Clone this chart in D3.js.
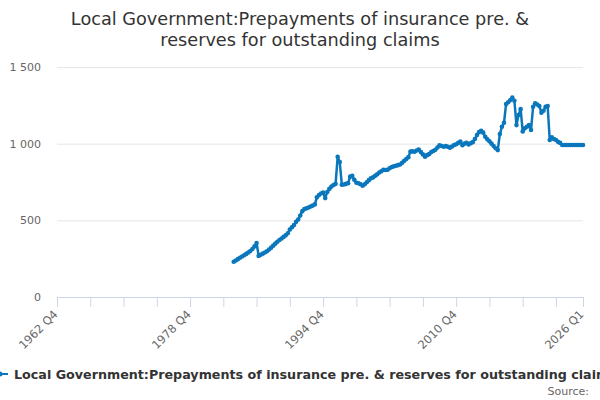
<!DOCTYPE html>
<html lang="en">
<head>
    <meta charset="UTF-8">
    <title>Local Government: Prepayments of insurance</title>
    <script src="https://d3js.org/d3.v7.min.js"></script>
    <style>
        body { margin: 0; background: #fff; font-family: "DejaVu Sans", sans-serif; }
        svg { display: block; }
    </style>
</head>
<body>
    <div id="chart"></div>

    <script>
        // Axis covers every quarter from 1962 Q4 to 2026 Q1
        const firstYear = 1962, firstQuarter = 4;
        const lastYear = 2026, lastQuarter = 1;

        // Tick labels shown on the x axis
        const tickLabels = ["1962 Q4", "1978 Q4", "1994 Q4", "2010 Q4", "2026 Q1"];
        const yTicks = [0, 500, 1000, 1500];

        // Series starts in 1984 Q1, quarterly values (£m)
        const seriesStart = "1984 Q1";
        const seriesName = "Local Government:Prepayments of insurance pre. & reserves for outstanding claims";
        const values = [
            230, 238, 247, 256, 264, 272, 281, 290, 300, 313, 330, 352,      // 1984-86
            268, 276, 283, 290, 298, 310, 322, 335, 348, 360, 372, 382,      // 1987-89
            392, 402, 416, 440, 455, 470, 490, 505, 532, 560, 574, 578,      // 1990-92
            584, 590, 596, 604, 650, 665, 675, 682, 645, 685, 705, 720,      // 1993-95
            730, 738, 915, 880, 732, 734, 738, 742, 785, 790, 765, 745,      // 1996-98
            742, 735, 726, 735, 748, 762, 774, 780, 790, 800, 812, 820,      // 1999-01
            830, 828, 830, 840, 848, 852, 856, 860, 864, 875, 888, 900,      // 2002-04
            912, 948, 950, 947, 955, 962, 945, 930, 915, 925, 932, 945,      // 2005-07
            952, 960, 975, 990, 985, 980, 984, 980, 973, 982, 991, 996,      // 2008-10
            1005, 1013, 990, 1000, 1006, 995, 1003, 1010, 1030, 1056, 1075, 1084, // 2011-13
            1072, 1045, 1028, 1015, 1000, 985, 970, 958, 1063, 1110, 1136, 1258, // 2014-16
            1270, 1284, 1300, 1280, 1121, 1187, 1225, 1080, 1100, 1110, 1121, 1089, // 2017-19
            1241, 1263, 1255, 1245, 1202, 1215, 1241, 1245, 1024, 1041, 1030, 1024, // 2020-22
            1012, 1005, 991, 991, 991, 991, 991, 991, 991, 991, 991, 991,    // 2023-25
            991                                                              // 2026 Q1
        ];

        const width = 600, height = 400;
        const margin = { top: 67, right: 17, bottom: 103, left: 57 };
        const lineColor = "#0a77bd";

        // Build quarter category names
        const quarters = [];
        for (let y = firstYear, q = firstQuarter; y < lastYear || (y === lastYear && q <= lastQuarter); ) {
            quarters.push(`${y} Q${q}`);
            q++;
            if (q > 4) { q = 1; y++; }
        }
        const startIndex = quarters.indexOf(seriesStart);
        const data = values.map((v, i) => ({ quarter: quarters[startIndex + i], value: v }));

        const svg = d3.select("#chart").append("svg")
            .attr("width", width)
            .attr("height", height);

        const x = d3.scalePoint()
            .domain(quarters)
            .range([margin.left, width - margin.right]);

        const y = d3.scaleLinear()
            .domain([0, 1500])
            .range([height - margin.bottom, margin.top]);

        const fmt = d3.formatLocale({ decimal: ".", thousands: " ", grouping: [3], currency: ["", ""] }).format(",");

        // Title
        svg.append("text")
            .attr("x", width / 2)
            .attr("y", 25)
            .attr("text-anchor", "middle")
            .style("font-size", "17.7px")
            .style("fill", "#333")
            .selectAll("tspan")
            .data(["Local Government:Prepayments of insurance pre. &", "reserves for outstanding claims"])
            .join("tspan")
            .attr("x", width / 2)
            .attr("dy", (d, i) => i === 0 ? 0 : 20.5)
            .text(d => d);

        // Gridlines + y labels
        const yAxis = svg.append("g")
            .attr("transform", `translate(${margin.left},0)`)
            .call(d3.axisLeft(y).tickValues(yTicks).tickSize(-(width - margin.left - margin.right)).tickFormat(fmt));
        yAxis.select(".domain").remove();
        yAxis.selectAll(".tick line").attr("stroke", "#e6e6e6");
        yAxis.selectAll(".tick text")
            .attr("x", -16)
            .style("font-family", "DejaVu Sans")
            .style("font-size", "11px")
            .style("fill", "#666");

        // X axis: ticks every 16 quarters plus the last one
        const tickQuarters = quarters.filter((q, i) => i % 16 === 0 || i === quarters.length - 1);
        const xAxis = svg.append("g")
            .attr("transform", `translate(0,${height - margin.bottom})`)
            .call(d3.axisBottom(x).tickValues(tickQuarters).tickSize(10)
                .tickFormat(d => tickLabels.includes(d) ? d : ""));
        xAxis.select(".domain").attr("stroke", "#ccd6eb");
        xAxis.selectAll(".tick line").attr("stroke", "#ccd6eb");
        xAxis.selectAll(".tick text")
            .attr("text-anchor", "end")
            .attr("x", 0)
            .attr("y", 0)
            .attr("dy", 0)
            .attr("transform", "translate(1,18) rotate(-45)")
            .style("font-family", "DejaVu Sans")
            .style("font-size", "11.5px")
            .style("fill", "#666");

        // Series line
        const line = d3.line()
            .x(d => x(d.quarter))
            .y(d => y(d.value));

        svg.append("path")
            .datum(data)
            .attr("fill", "none")
            .attr("stroke", lineColor)
            .attr("stroke-width", 2.5)
            .attr("stroke-linejoin", "round")
            .attr("d", line);

        svg.append("g")
            .selectAll("circle")
            .data(data)
            .join("circle")
            .attr("cx", d => x(d.quarter))
            .attr("cy", d => y(d.value))
            .attr("r", 2.3)
            .attr("fill", lineColor);

        // Legend (wider than the chart, runs off the right edge like the original)
        const legend = svg.append("g").attr("transform", "translate(0,374)");
        legend.append("line")
            .attr("x1", -8).attr("x2", 8)
            .attr("stroke", lineColor)
            .attr("stroke-width", 2);
        legend.append("circle").attr("cx", 0).attr("r", 2.5).attr("fill", lineColor);
        legend.append("text")
            .attr("x", 14)
            .attr("y", 5)
            .style("font-size", "12.7px")
            .style("font-weight", "bold")
            .style("fill", "#333")
            .text(seriesName);

        // Credits
        svg.append("text")
            .attr("x", 589)
            .attr("y", 395)
            .attr("text-anchor", "end")
            .style("font-size", "11px")
            .style("fill", "#666")
            .text("Source:");
    </script>
</body>
</html>
